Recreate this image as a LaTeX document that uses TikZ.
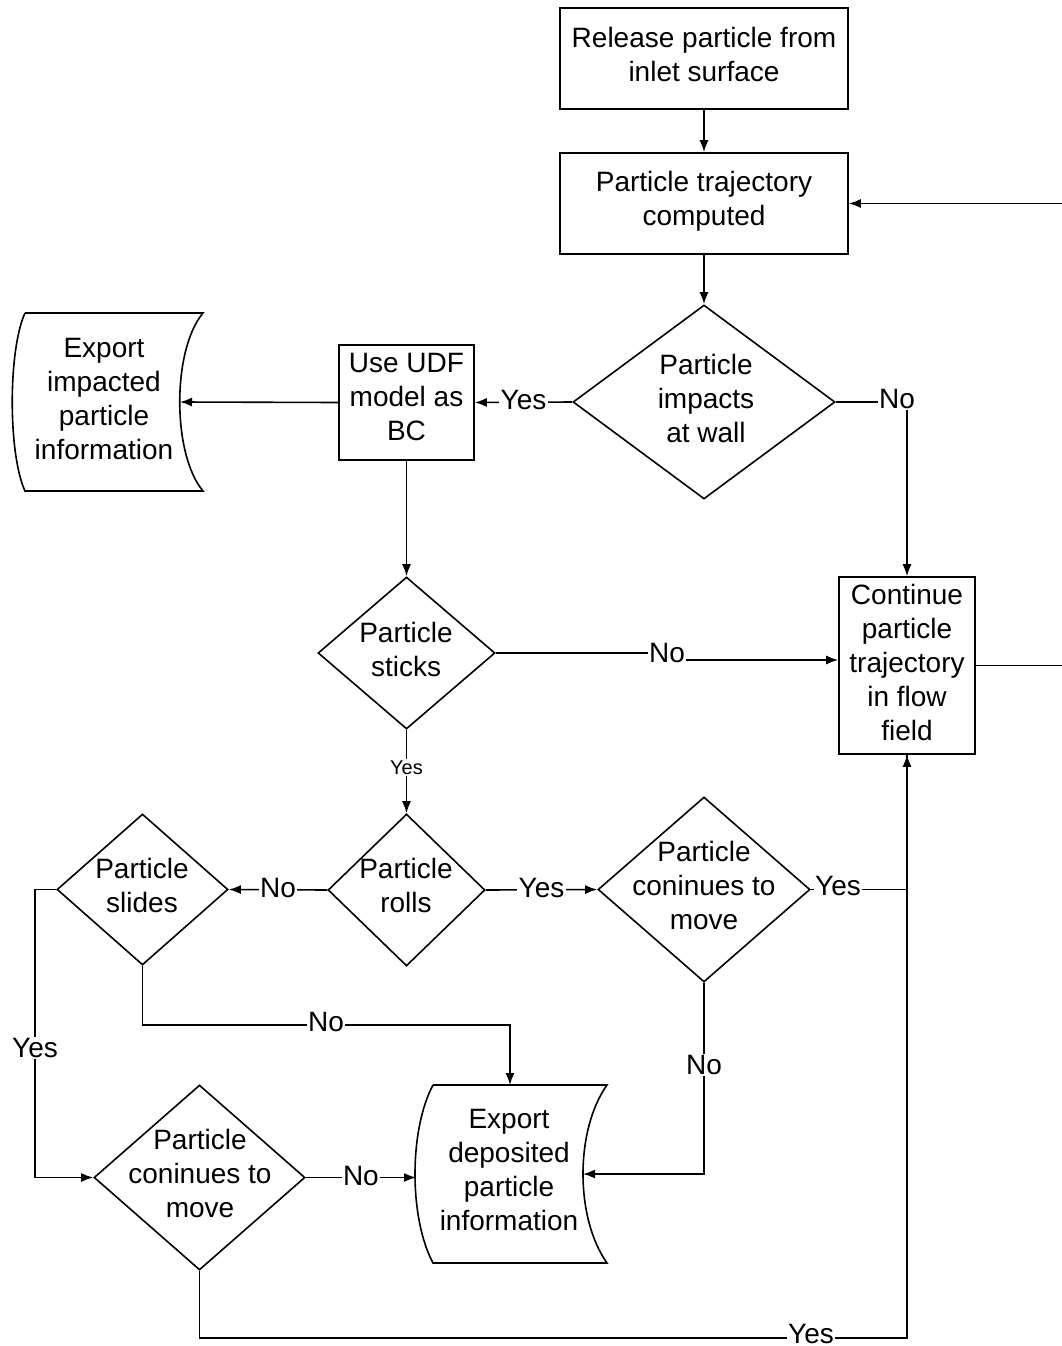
\documentclass[tikz,border=0pt]{standalone}
\usepackage{fontspec}
\setmainfont{Liberation Sans}
\usetikzlibrary{shapes.geometric,arrows.meta}
\begin{document}
\begin{tikzpicture}[x=1pt,y=-1pt,
  every node/.style={font=\fontsize{28}{34}\selectfont},
  proc/.style={draw,line width=1.6pt,rectangle,inner sep=0pt},
  dec/.style={draw,line width=1.6pt,diamond,inner sep=0pt},
  txt/.style={align=center,inner sep=0pt},
  lab/.style={fill=white,inner sep=1.5pt},
  conn/.style={line width=1.6pt},
  arr/.style={line width=1.6pt,-{Latex[length=12pt,width=9pt]}},
  datashape/.style={line width=1.6pt}
]
\useasboundingbox (0,0) rectangle (1062,1346);
% rectangles
\node[proc,minimum width=288pt,minimum height=101pt] (rel) at (704,58.5) {};
\node[txt] at (704,54) {Release particle from\\inlet surface};
\node[proc,minimum width=288pt,minimum height=101pt] (traj) at (704,203.5) {};
\node[txt] at (704,201.5) {Particle trajectory\\computed};
\node[proc,minimum width=135pt,minimum height=115pt] (udf) at (406.5,402.5) {};
\node[txt] at (406.5,397) {Use UDF\\model as\\BC};
\node[proc,minimum width=136pt,minimum height=177pt] (cont) at (907,665.5) {};
\node[txt] at (907,662) {Continue\\particle\\trajectory\\in flow\\field};
% diamonds
\node[dec,minimum width=262pt,minimum height=194pt] (imp) at (704,402) {};
\node[txt] at (706,398.5) {Particle\\impacts\\at wall};
\node[dec,minimum width=177pt,minimum height=152pt] (stick) at (406.5,653) {};
\node[txt] at (406,649) {Particle\\sticks};
\node[dec,minimum width=157pt,minimum height=152pt] (roll) at (406.5,890) {};
\node[txt] at (406,885) {Particle\\rolls};
\node[dec,minimum width=171pt,minimum height=151pt] (slide) at (142.5,889.5) {};
\node[txt] at (142,885) {Particle\\slides};
\node[dec,minimum width=212pt,minimum height=185pt] (mvA) at (704,889.5) {};
\node[txt] at (704,885) {Particle\\coninues to\\move};
\node[dec,minimum width=211pt,minimum height=185pt] (mvB) at (199.5,1177.5) {};
\node[txt] at (200,1173) {Particle\\coninues to\\move};
% data shapes
\draw[datashape] (25,313) -- (203,313) .. controls (172,350) and (172,454) .. (203,491) -- (25,491) .. controls (8,454) and (8,350) .. (25,313);
\node[txt] (expI) at (104,399) {Export\\impacted\\particle\\information};
\coordinate (expIin) at (180,402);
\draw[datashape] (433,1085) -- (607,1085) .. controls (575,1130) and (575,1218) .. (607,1263) -- (433,1263) .. controls (409,1218) and (409,1130) .. (433,1085);
\node[txt] (expD) at (509,1170) {Export\\deposited\\particle\\information};
\coordinate (expDr) at (583,1174);
\coordinate (expDl) at (416,1177.5);
\coordinate (expDt) at (510,1085);
% connectors
\draw[arr] (rel) -- (traj);
\draw[arr] (traj) -- (imp);
\draw[arr] (imp.west) -- (udf.east) node[lab,pos=0.5,yshift=2pt] {Yes};
\draw[arr] (imp.east) -- (907,402) -- (cont.north);
\node[lab] at (897,399) {No};
\draw[arr] (udf.west) -- (expIin);
\draw[arr] (udf.south) -- (stick.north);
\draw[arr] (stick.east) -- (667,653) -- (667,660) -- (cont.west |- 0,660);
\node[lab] at (667,653) {No};
\draw[arr] (stick.south) -- (roll.north) node[lab,pos=0.45,font=\fontsize{20}{24}\selectfont] {Yes};
\draw[arr] (roll.west) -- (slide.east) node[lab,pos=0.5,yshift=2pt] {No};
\draw[arr] (roll.east) -- (mvA.west) node[lab,pos=0.5,yshift=2pt] {Yes};
\draw[arr] (mvA.east) -- (907,889.5) -- (cont.south);
\node[lab] at (838,886) {Yes};
\draw[arr] (mvA.south) -- (704,1174) -- (expDr);
\node[lab] at (704,1065) {No};
\draw[arr] (slide.west) -- (35,889.5) -- (35,1177.5) -- (mvB.west);
\node[lab] at (35,1048) {Yes};
\draw[arr] (slide.south) -- (142.5,1025) -- (510,1025) -- (expDt);
\node[lab] at (326,1022) {No};
\draw[arr] (mvB.east) -- (expDl) node[lab,pos=0.5,yshift=2pt] {No};
\draw[conn] (mvB.south) -- (199.5,1338) -- (907,1338) -- (cont.south);
\node[lab] at (811,1334) {Yes};
\draw[arr] (cont.east) -- (1090,665.5) -- (1090,203.5) -- (traj.east);
\end{tikzpicture}
\end{document}
